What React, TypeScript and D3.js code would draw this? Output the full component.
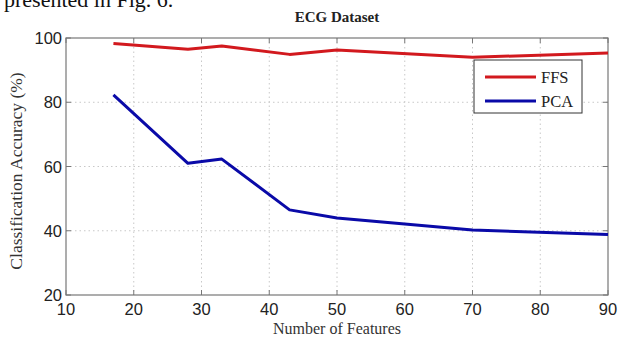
import React from 'react';
import * as d3 from 'd3';

const features = [17, 28, 33, 43, 50, 70, 90];
const ffsAccuracy = [98.3, 96.5, 97.5, 94.9, 96.3, 94.0, 95.3];
const pcaAccuracy = [82.3, 61.0, 62.3, 46.5, 44.0, 40.2, 38.8];
const xTicks = [10, 20, 30, 40, 50, 60, 70, 80, 90];
const yTicks = [20, 40, 60, 80, 100];

const series = [
  { name: 'FFS', values: ffsAccuracy, color: '#d2191e' },
  { name: 'PCA', values: pcaAccuracy, color: '#0a0aa8' },
];

const W = 620;
const H = 338;
const left = 66;
const right = 608;
const top = 38;
const bottom = 295;

const App: React.FC = () => {
  const x = d3.scaleLinear().domain([10, 90]).range([left, right]);
  const y = d3.scaleLinear().domain([20, 100]).range([bottom, top]);

  const line = d3.line<[number, number]>()
    .x(d => x(d[0]))
    .y(d => y(d[1]));

  const tickFont = '"Liberation Sans", Arial, Helvetica, sans-serif';
  const serif = '"Liberation Serif", "Times New Roman", serif';

  return (
    <svg width={W} height={H} style={{ position: 'absolute', left: 0, top: 0, background: '#fff' }}>
      {/* caption from the page above, cut by the crop */}
      <text x={4} y={7} fontFamily={serif} fontSize={22} fill="#111">presented in Fig. 6.</text>

      <text x={337} y={22} textAnchor="middle" fontFamily={serif} fontWeight="bold" fontSize={15} fill="#222">
        ECG Dataset
      </text>

      {/* grid */}
      <g stroke="#c8c8c8" strokeWidth={1} strokeDasharray="1.5,3">
        {xTicks.slice(1, -1).map(t => (
          <line key={'gx' + t} x1={x(t)} x2={x(t)} y1={top} y2={bottom} />
        ))}
        {yTicks.slice(1, -1).map(t => (
          <line key={'gy' + t} x1={left} x2={right} y1={y(t)} y2={y(t)} />
        ))}
      </g>

      {/* ticks (inward, all four sides) */}
      <g stroke="#777" strokeWidth={1}>
        {xTicks.map(t => (
          <g key={'tx' + t}>
            <line x1={x(t)} x2={x(t)} y1={bottom} y2={bottom - 5} />
            <line x1={x(t)} x2={x(t)} y1={top} y2={top + 5} />
          </g>
        ))}
        {yTicks.map(t => (
          <g key={'ty' + t}>
            <line x1={left} x2={left + 5} y1={y(t)} y2={y(t)} />
            <line x1={right} x2={right - 5} y1={y(t)} y2={y(t)} />
          </g>
        ))}
      </g>

      <rect x={left} y={top} width={right - left} height={bottom - top} fill="none" stroke="#777" strokeWidth={1.2} />

      {/* tick labels */}
      {xTicks.map(t => (
        <text key={'lx' + t} x={x(t)} y={bottom + 20} textAnchor="middle" fontFamily={tickFont} fontSize={16.5} fill="#222">
          {t}
        </text>
      ))}
      {yTicks.map(t => (
        <text key={'ly' + t} x={left - 4} y={y(t) + 6} textAnchor="end" fontFamily={tickFont} fontSize={16.5} fill="#222">
          {t}
        </text>
      ))}

      <text x={337} y={334} textAnchor="middle" fontFamily={serif} fontSize={16} fill="#333">
        Number of Features
      </text>
      <text
        transform={`translate(22, 171) rotate(-90)`}
        textAnchor="middle"
        fontFamily={serif}
        fontSize={17.5}
        fill="#333"
      >
        Classification Accuracy (%)
      </text>

      {series.map(s => (
        <path
          key={s.name}
          d={line(features.map((f, i) => [f, s.values[i]] as [number, number])) || ''}
          fill="none"
          stroke={s.color}
          strokeWidth={3}
          strokeLinejoin="round"
        />
      ))}

      {/* legend */}
      <g>
        <rect x={474} y={60} width={108} height={53} fill="#fff" stroke="#333" strokeWidth={1} />
        {series.map((s, i) => (
          <g key={'lg' + s.name}>
            <line x1={485} x2={536} y1={77 + i * 24} y2={77 + i * 24} stroke={s.color} strokeWidth={3} />
            <text x={541} y={83 + i * 24} fontFamily={serif} fontSize={16.5} fill="#222">{s.name}</text>
          </g>
        ))}
      </g>
    </svg>
  );
};

export default App;
